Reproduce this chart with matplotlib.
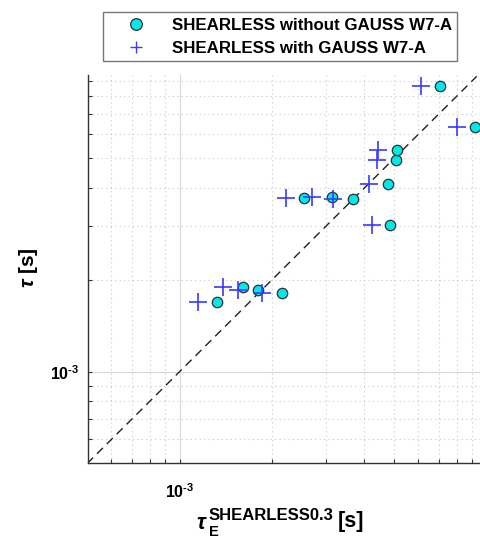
import numpy as np
import matplotlib
matplotlib.use('Agg')
import matplotlib.pyplot as plt
from matplotlib.lines import Line2D
from matplotlib.ticker import LogLocator, NullFormatter, FixedLocator

plt.rcParams['font.family'] = ['Liberation Sans', 'DejaVu Sans']
plt.rcParams['font.weight'] = 'bold'
plt.rcParams['mathtext.fontset'] = 'custom'
plt.rcParams['mathtext.rm'] = 'Liberation Sans:bold'
plt.rcParams['mathtext.bf'] = 'Liberation Sans:bold'
plt.rcParams['mathtext.it'] = 'Liberation Sans:italic:bold'

# tau_E (SHEARLESS 0.3) for the two runs, and the shared measured tau
tauE_without = [1.322e-3, 1.606e-3, 1.797e-3, 2.152e-3, 2.550e-3, 3.139e-3, 3.674e-3,
                4.787e-3, 4.860e-3, 5.073e-3, 5.122e-3, 7.056e-3, 9.153e-3]
tauE_with = [1.146e-3, 1.389e-3, 1.554e-3, 1.861e-3, 2.218e-3, 2.708e-3, 3.155e-3,
             4.152e-3, 4.228e-3, 4.389e-3, 4.443e-3, 6.118e-3, 8.000e-3]
tau = [1.696e-3, 1.899e-3, 1.853e-3, 1.807e-3, 3.703e-3, 3.725e-3, 3.684e-3,
       4.135e-3, 3.020e-3, 4.934e-3, 5.333e-3, 8.665e-3, 6.358e-3]
diag = [5.0e-4, 9.3e-3]
labels = ['SHEARLESS without GAUSS W7-A', 'SHEARLESS with GAUSS W7-A']
tick_label = '10$^{\u20103}$'

W, H = 481, 538
fig = plt.figure(figsize=(W / 100, H / 100), dpi=100)
ax = fig.add_axes([87.5 / W, 75 / H, (W - 87.5) / W, (463 - 75) / H])

cyan = '#00e8e8'
blue = '#3a3aff'
ax.plot(diag, diag, ls=(0, (6, 4)), color='#202020', lw=1.0, zorder=2)
ax.plot(tauE_without, tau, 'o', ms=7.5, mfc=cyan, mec='#303030', mew=0.9, zorder=3)
ax.plot(tauE_with, tau, '+', ms=13, color=blue, mew=1.2, zorder=4)

ax.set_xscale('log')
ax.set_yscale('log')
ax.set_xlim(5.013e-4, 9.6e-3)
ax.set_ylim(5.02e-4, 9.39e-3)

for axis in (ax.xaxis, ax.yaxis):
    axis.set_major_locator(FixedLocator([1e-3]))
    axis.set_minor_locator(LogLocator(base=10, subs=np.arange(2, 10), numticks=20))
    axis.set_minor_formatter(NullFormatter())

ax.set_xticks([1e-3])
ax.set_xticklabels([tick_label])
ax.set_yticks([1e-3])
ax.set_yticklabels([tick_label])

ax.grid(True, which='major', color='#d8d8d8', lw=0.8, ls='-')
ax.grid(True, which='minor', color='#c8c8c8', lw=0.8, ls=(0, (1, 3)))
ax.tick_params(which='both', direction='in', length=3, width=0.8, color='#333333',
               labelsize=11.5)
ax.tick_params(axis='x', pad=14)
ax.tick_params(axis='y', pad=6)
for s in ('top', 'right'):
    ax.spines[s].set_visible(False)
for s in ('left', 'bottom'):
    ax.spines[s].set_color('#333333')
    ax.spines[s].set_linewidth(1.0)

# y label
ax.set_ylabel(r'$\tau$ [s]', fontsize=15, fontweight='bold')
ax.yaxis.set_label_coords((39.5 - 87.5) / (W - 87.5), (463 - 268) / (463 - 75))

# x label built from pieces: tau, subscript E, superscript SHEARLESS0.3, [s]
def px(x, y):
    return x / W, 1 - y / H

fig.text(*px(196.7, 529), 'τ', fontsize=15.5, style='italic', fontweight='bold',
         va='baseline', ha='left')
fig.text(*px(209, 536.5), 'E', fontsize=10.5, fontweight='bold', va='baseline', ha='left')
fig.text(*px(209, 520), 'SHEARLESS0.3', fontsize=12, fontweight='bold',
         va='baseline', ha='left')
fig.text(*px(338, 527.5), '[s]', fontsize=15.5, fontweight='bold',
         va='baseline', ha='left')

handles = [Line2D([], [], ls='none', marker='o', ms=8.4, mfc=cyan, mec='#303030', mew=0.9),
           Line2D([], [], ls='none', marker='+', ms=8.6, color=blue, mew=1.0)]
fig.legend(handles=handles, labels=labels, loc='upper left',
           bbox_to_anchor=px(103.3, 12.3), borderaxespad=0, fontsize=12.2,
           frameon=True, fancybox=False, edgecolor='#777777', framealpha=1,
           handletextpad=0.5, borderpad=0.33, labelspacing=0.45, handlelength=3.2)

fig.savefig('out.png', dpi=100)
